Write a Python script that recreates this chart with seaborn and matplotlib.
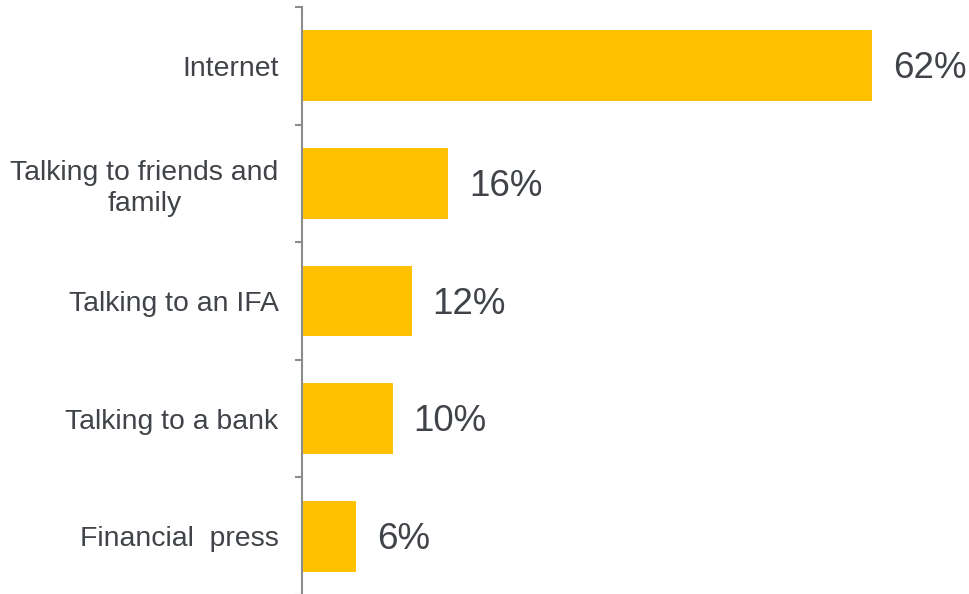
import matplotlib
matplotlib.use("Agg")
import matplotlib.pyplot as plt
import seaborn as sns
import pandas as pd
import numpy as np

categories = ["Internet", "Talking to friends and\nfamily", "Talking to an IFA",
              "Talking to a bank", "Financial  press"]
values = [62, 16, 12, 10, 6]
value_labels = ["62%", "16%", "12%", "10%", "6%"]

sns.set_theme(style="white")
plt.rcParams['font.family'] = ['Liberation Sans', 'DejaVu Sans']

df = pd.DataFrame({"category": categories, "value": values})

fig = plt.figure(figsize=(9.70, 5.94), dpi=100)
ax = fig.add_axes([302/970, -1/594, (947-302)/970, 588/594])

sns.barplot(data=df, y="category", x="value", orient="h", color="#FFC000",
            saturation=1, width=0.62, edgecolor="white", linewidth=1.5, ax=ax)

ax.set_xlim(0, 70)
ax.set_ylim(4.5, -0.5)
ax.set_xlabel("")
ax.set_ylabel("")
ax.set_xticks([])

for s in ["top", "right", "bottom"]:
    ax.spines[s].set_visible(False)
ax.spines["left"].set_color("#8c8c8c")
ax.spines["left"].set_linewidth(1.5)

ax.tick_params(axis="y", which="major", length=0, pad=17, labelsize=20.4,
               labelcolor="#404448")
ax.set_yticks(np.arange(-0.5, 5.0, 1.0), minor=True)
ax.tick_params(axis="y", which="minor", length=5, width=1.5, color="#8c8c8c",
               left=True)
for lab in ax.get_yticklabels():
    lab.set_multialignment("center")
    lab.set_linespacing(1.25)

for i, (v, t) in enumerate(zip(values, value_labels)):
    ax.annotate(t, xy=(v, i), xytext=(14, -9), textcoords="offset points",
                ha="left", va="baseline", fontsize=26.5, color="#404448",
                annotation_clip=False)

fig.savefig("out.png", dpi=100)
